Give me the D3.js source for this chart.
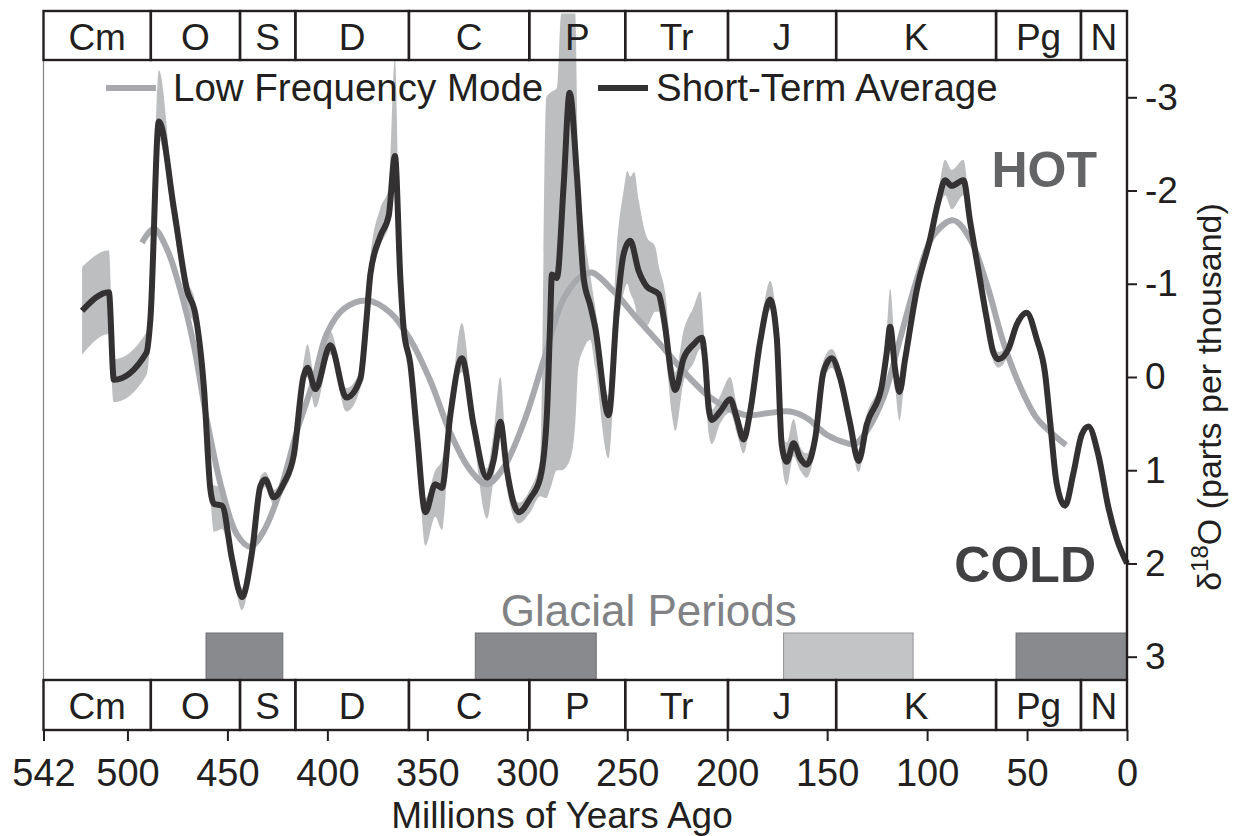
<!DOCTYPE html>
<html><head><meta charset="utf-8">
<script src="https://cdn.jsdelivr.net/npm/d3@7"></script>
<style>body{margin:0;background:#fff}svg{display:block}text{font-family:"Liberation Sans",Arial,Helvetica,sans-serif}</style>
</head><body><svg id="c" width="1242" height="836"></svg>
<script>
// ---- data ----
const periodNames = ["Cm","O","S","D","C","P","Tr","J","K","Pg","N"];
const periodBounds = [542,488.3,443.7,416,359.2,299,251,199.6,145.5,65.5,23.03,0];
const xTicks = [542,500,450,400,350,300,250,200,150,100,50,0];
const yTicks = [-3,-2,-1,0,1,2,3];
const glacialStart = [460.7,326,171.8,55.5];
const glacialEnd = [422.3,265.5,107,0];
const glacialShade = ["dark","dark","light","dark"];

const stAge = [522.7,509.3,506.8,490.5,488.5,484.3,476.8,470.2,466,461.8,
458.5,456.8,452.7,447.7,442.7,437.7,433.5,431,426.8,421.8,
416.8,412,410,406,398.5,390.5,383.5,380.5,378.5,373.5,
369.3,366.2,363.5,361.8,358.5,355.2,351,346,342.7,338.5,
332.7,326.8,320.2,316.8,313.5,310.2,304.3,298.5,293.5,290.2,
288.5,287.7,285.2,281.8,278.8,275.2,271.8,268.5,266,259.3,
255.2,251.8,248.5,244.3,240.2,234.3,231,227.7,226,221.8,
216.8,212.7,211,209.3,207.7,203.5,198.5,195.2,191.8,188.5,
183.5,178.5,175.2,172.7,170.2,166.8,163.5,160.2,156,151.8,
147.7,143.5,138.5,134.3,130.2,122.7,120.2,118.5,116,113.8,
111,105.2,98.5,94.3,91,87.7,81.8,78.5,73.5,70.2,
66.8,64.3,59.3,55.2,50.2,45.2,41,38.5,35.2,31,
26.8,22.7,19.3,14.3,9.3,5.2,0];
const stVal = [-0.71,-0.91,0.03,-0.26,-0.63,-2.74,-1.81,-0.93,-0.67,0.10,
1.21,1.36,1.38,1.95,2.36,1.88,1.17,1.10,1.29,1.14,
0.84,0.0,-0.1,0.13,-0.34,0.22,0.02,-0.6,-1.1,-1.51,
-1.73,-2.37,-1.06,-0.51,-0.14,0.60,1.45,1.15,1.19,0.41,
-0.20,0.52,1.08,0.89,0.48,1.0,1.45,1.30,1.08,0.41,
-0.62,-1.10,-1.06,-2.06,-3.05,-2.17,-1.06,-0.77,-0.53,0.41,
-0.71,-1.32,-1.46,-1.14,-0.97,-0.89,-0.53,0.01,0.14,-0.20,
-0.35,-0.42,-0.17,0.33,0.46,0.37,0.24,0.44,0.67,0.37,
-0.38,-0.83,-0.42,0.73,0.91,0.71,0.87,0.94,0.66,-0.06,
-0.20,0.01,0.50,0.90,0.51,0.10,-0.26,-0.54,-0.08,0.16,
-0.19,-0.93,-1.48,-1.89,-2.11,-2.05,-2.11,-1.67,-1.04,-0.63,
-0.26,-0.19,-0.30,-0.56,-0.69,-0.41,-0.04,0.47,1.14,1.38,
1.03,0.62,0.53,0.84,1.40,1.73,2.0];

const bandAge = [522.7,509.3,506.8,490.5,488.5,484.3,476.8,470.2,466,461.8,
458.5,456.8,452.7,447.7,442.7,437.7,433.5,431,426.8,421.8,
416.8,412,410,406,398.5,390.5,383.5,380.5,378.5,373.5,
369.3,366.2,363.5,361.8,358.5,355.2,351,346,342.7,338.5,
332.7,326.8,320.2,316.8,313.5,310.2,304.3,298.5,293.5,290.5,
288.5,285.2,283,278.8,276,274.5,271.8,268.5,266,259.3,
255.2,251.8,250,248.5,246.5,244.3,240.2,236,234.3,231,
227.7,226,221.8,216.8,213.5,211,209.3,207.7,203.5,198.5,
195.2,191.8,188.5,183.5,178.5,175.2,172.7,170.2,166.8,163.5,
160.2,156,151.8,147.7,143.5,138.5,134.3,130.2,122.7,120.2,
118.5,116,113.8,111,105.2,98.5,94.3,91,87.7,81.8,
78.5,73.5,70.2,66.8,64.3,59.3,55.2];
const bandHi = [-1.18,-1.36,-0.19,-0.48,-0.9,-3.29,-1.93,-1.05,-0.79,0.0,
1.11,1.16,1.18,1.85,2.26,1.78,1.07,1.02,1.21,1.06,
0.74,-0.15,-0.35,0.03,-0.49,0.12,-0.08,-0.75,-1.3,-1.81,
-2.03,-3.42,-1.16,-0.61,-0.24,0.5,1.3,1.0,0.89,0.31,
-0.58,0.42,0.98,0.59,0.0,0.9,1.35,1.2,0.88,-3.0,
-3.05,-3.1,-3.9,-3.9,-3.9,-2.4,-1.6,-1.1,-0.75,0.2,
-1.4,-2.0,-2.21,-2.15,-2.2,-1.9,-1.5,-1.4,-1.2,-0.9,
-0.2,-0.05,-0.5,-0.75,-0.92,-0.3,0.2,0.35,0.2,0.0,
0.3,0.55,0.25,-0.5,-1.03,-0.55,0.6,0.7,0.45,0.75,
0.82,0.54,-0.18,-0.3,-0.1,0.4,0.78,0.4,0.0,-0.5,
-0.95,-0.3,0.02,-0.3,-1.03,-1.58,-2.0,-2.33,-2.22,-2.33,
-1.77,-1.14,-0.73,-0.36,-0.27,-0.36,-0.6];
const bandLo = [-0.24,-0.46,0.27,-0.02,-0.4,-2.55,-1.61,-0.73,-0.52,0.2,
1.31,1.66,1.63,2.05,2.5,1.98,1.27,1.18,1.37,1.22,
0.94,0.1,0.0,0.33,-0.24,0.37,0.12,-0.5,-0.95,-1.41,
-1.63,-2.1,-0.96,-0.41,-0.04,0.7,1.81,1.5,1.64,0.51,
-0.05,0.67,1.52,1.09,0.58,1.2,1.57,1.45,1.28,1.3,
1.2,1.0,1.0,0.9,0.5,-0.1,-0.3,-0.4,-0.1,0.87,
-0.4,-0.9,-1.0,-0.9,-0.8,-0.6,-0.55,-0.7,-0.7,-0.3,
0.4,0.58,0.05,-0.15,-0.3,0.0,0.6,0.72,0.5,0.38,
0.6,0.82,0.5,-0.28,-0.72,-0.3,0.9,1.16,0.85,1.0,
1.08,0.78,0.06,-0.1,0.12,0.6,1.02,0.62,0.2,-0.15,
-0.4,0.1,0.47,-0.05,-0.83,-1.38,-1.78,-1.95,-1.8,-1.95,
-1.57,-0.94,-0.53,-0.16,-0.1,-0.24,-0.52];

const lfAge = [492.7,486.8,480.2,473.5,466.8,460.2,452.7,445.2,438.5,431.8,
423.5,415.2,406.8,400.2,391.8,380.2,368.5,358.5,348.5,338.5,
328.5,320.2,311.8,301.8,291.8,281.8,273,267.7,256.8,245.2,
233.5,221.8,210.2,200.2,190.2,180.2,168.5,160.2,150.2,140.2,
136,130.2,121.8,113.5,105.2,96.8,86.8,78.5,70.2,61.8,
53.5,45.2,36.8,30.5];
const lfVal = [-1.44,-1.59,-1.37,-0.93,-0.34,0.47,1.21,1.69,1.82,1.65,
1.21,0.58,0.03,-0.47,-0.73,-0.82,-0.69,-0.40,0.04,0.60,
1.00,1.15,0.97,0.49,-0.18,-0.84,-1.08,-1.12,-0.92,-0.63,
-0.35,-0.06,0.19,0.33,0.41,0.39,0.37,0.44,0.62,0.71,
0.72,0.58,0.22,-0.41,-1.04,-1.52,-1.68,-1.48,-1.0,-0.37,
0.10,0.44,0.62,0.73];

// ---- drawing ----
const svg = d3.select("#c");
const ink = "#231f20";
const x = d3.scaleLinear().domain([542,0]).range([43.5,1127]);
const y = d3.scaleLinear().domain([-3.40,3.25]).range([60,680]);
const topBand = [11,60], botBand = [680,730];

// glacial blocks
svg.append("g").selectAll("rect").data(glacialStart).join("rect")
  .attr("x",(d)=>x(d)).attr("width",(d,i)=>x(glacialEnd[i])-x(d))
  .attr("y",633).attr("height",680-633)
  .attr("fill",(d,i)=>glacialShade[i]==="dark"?"#898a8d":"#c3c4c6")
  .attr("stroke",(d,i)=>glacialShade[i]==="dark"?"#6d6e71":"#939598").attr("stroke-width",1);

// band
const area = d3.area().curve(d3.curveMonotoneX)
  .x((d,i)=>x(bandAge[i])).y0((d,i)=>y(bandLo[i])).y1((d,i)=>y(bandHi[i]));
svg.append("path").attr("d",area(bandAge)).attr("fill","#bcbec0");

// low frequency mode
const lfLine = d3.line().curve(d3.curveCatmullRom.alpha(0.5))
  .x((d,i)=>x(lfAge[i])).y((d,i)=>y(lfVal[i]));
svg.append("path").attr("d",lfLine(lfAge)).attr("fill","none")
  .attr("stroke","#a7a9ac").attr("stroke-width",6);

// short-term average
const stLine = d3.line().curve(d3.curveMonotoneX)
  .x((d,i)=>x(stAge[i])).y((d,i)=>y(stVal[i]));
svg.append("path").attr("d",stLine(stAge)).attr("fill","none")
  .attr("stroke","#333132").attr("stroke-width",6).attr("stroke-linejoin","round");

// frame lines
svg.append("line").attr("x1",43.5).attr("x2",43.5).attr("y1",topBand[1]).attr("y2",botBand[0])
  .attr("stroke","#808285").attr("stroke-width",1.2);

// period bands
function drawBand(yr, baseY){
  const g = svg.append("g");
  g.selectAll("rect").data(periodNames).join("rect")
    .attr("x",(d,i)=>x(periodBounds[i])).attr("width",(d,i)=>x(periodBounds[i+1])-x(periodBounds[i]))
    .attr("y",yr[0]).attr("height",yr[1]-yr[0])
    .attr("fill","none").attr("stroke",ink).attr("stroke-width",2.4);
  g.selectAll("text").data(periodNames).join("text")
    .attr("x",(d,i)=>(x(periodBounds[i])+x(periodBounds[i+1]))/2).attr("y",baseY)
    .attr("text-anchor","middle").attr("font-size",37).attr("fill",ink).text(d=>d);
}
drawBand(topBand,50);
drawBand(botBand,719);

// bottom axis
const xAxis = d3.axisBottom(x).tickValues(xTicks).tickSize(11).tickPadding(18).tickFormat(d=>String(d));
const gx = svg.append("g").attr("transform",`translate(0,${botBand[1]})`).call(xAxis);
gx.select(".domain").remove();
gx.selectAll(".tick line").attr("stroke",ink).attr("stroke-width",2);
gx.selectAll(".tick text").attr("font-size",38).attr("fill",ink).attr("font-family","Liberation Sans, Arial, sans-serif");

// right axis
const yAxis = d3.axisRight(y).tickValues(yTicks).tickSize(10).tickPadding(8).tickFormat(d=>String(d));
const gy = svg.append("g").attr("transform","translate(1127,0)").call(yAxis);
gy.select(".domain").attr("stroke",ink).attr("stroke-width",2.4).attr("d",`M0,${topBand[1]}V${botBand[0]}`);
gy.selectAll(".tick line").attr("stroke",ink).attr("stroke-width",2);
gy.selectAll(".tick text").attr("font-size",37).attr("fill",ink).attr("font-family","Liberation Sans, Arial, sans-serif");

// axis titles
svg.append("text").attr("x",562).attr("y",828).attr("text-anchor","middle")
  .attr("font-size",37).attr("fill",ink).text("Millions of Years Ago");
const yl = svg.append("text").attr("transform","translate(1221,397) rotate(-90)")
  .attr("text-anchor","middle").attr("font-size",34).attr("fill",ink);
yl.append("tspan").text("δ");
yl.append("tspan").attr("dy",-13).attr("font-size",24).text("18");
yl.append("tspan").attr("dy",13).text("O (parts per thousand)");

// legend
svg.append("line").attr("x1",106).attr("x2",156).attr("y1",88).attr("y2",88)
  .attr("stroke","#a7a9ac").attr("stroke-width",6);
svg.append("text").attr("x",173).attr("y",100.5).attr("font-size",38.5).attr("fill",ink).text("Low Frequency Mode");
svg.append("line").attr("x1",598).attr("x2",648).attr("y1",88).attr("y2",88)
  .attr("stroke","#333132").attr("stroke-width",6);
svg.append("text").attr("x",656).attr("y",100.5).attr("font-size",38.5).attr("fill",ink).text("Short-Term Average");

// annotations
svg.append("text").attr("x",1097).attr("y",187).attr("text-anchor","end")
  .attr("font-size",50).attr("font-weight","bold").attr("fill","#636466").text("HOT");
svg.append("text").attr("x",1096).attr("y",582).attr("text-anchor","end")
  .attr("font-size",50).attr("font-weight","bold").attr("fill","#414042").text("COLD");
svg.append("text").attr("x",648.7).attr("y",626).attr("text-anchor","middle")
  .attr("font-size",44).attr("fill","#808285").text("Glacial Periods");
</script></body></html>
